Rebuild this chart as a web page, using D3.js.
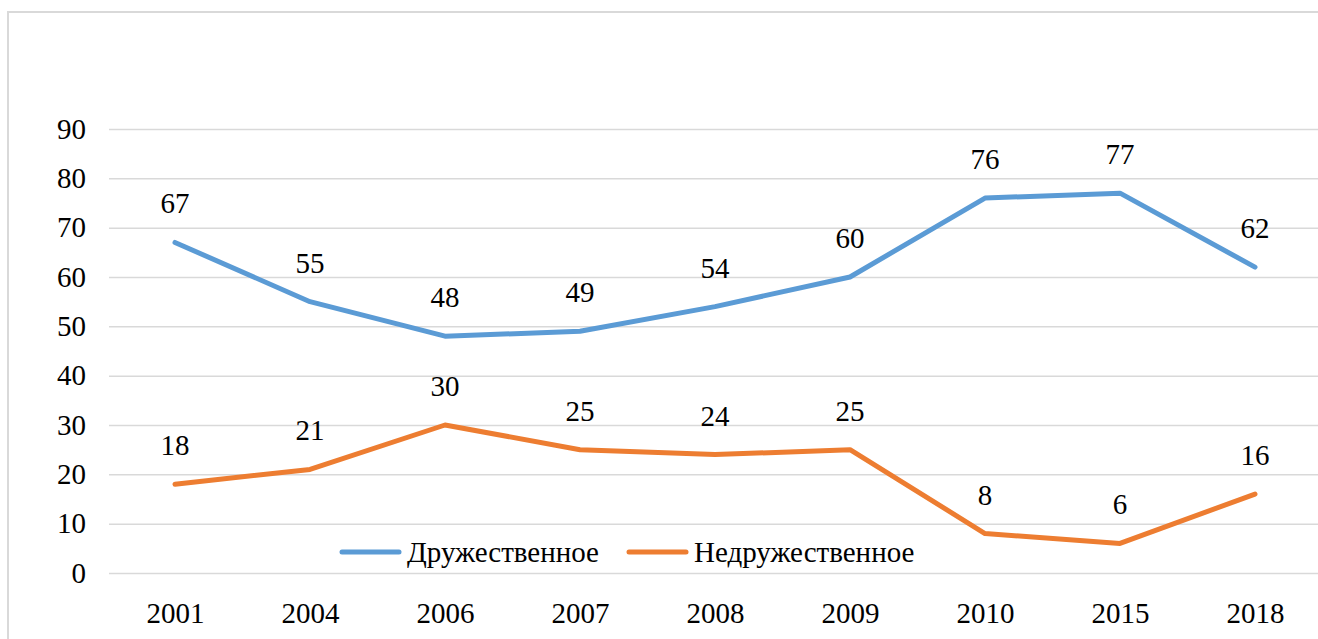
<!DOCTYPE html>
<html>
<head>
<meta charset="utf-8">
<script src="https://cdn.jsdelivr.net/npm/d3@7"></script>
<style>
  body { margin: 0; background: #fff; }
  svg text { font-family: "Liberation Serif", "Times New Roman", serif !important; }
</style>
</head>
<body>
<div id="chart"></div>
<script>
var years = ["2001", "2004", "2006", "2007", "2008", "2009", "2010", "2015", "2018"];
var friendly = [67, 55, 48, 49, 54, 60, 76, 77, 62];
var unfriendly = [18, 21, 30, 25, 24, 25, 8, 6, 16];
var yTicks = [0, 10, 20, 30, 40, 50, 60, 70, 80, 90];
var seriesNames = ["Дружественное", "Недружественное"];
var colors = ["#5b9bd5", "#ed7d31"];

var fam = "Liberation Serif, Times New Roman, serif";

var svg = d3.select("#chart")
    .append("svg")
    .attr("width", 1318)
    .attr("height", 639)
    .attr("font-family", fam)
    .attr("font-size", 29);

// outer frame
svg.append("rect")
    .attr("x", 8)
    .attr("y", 12)
    .attr("width", 1330)
    .attr("height", 700)
    .attr("fill", "none")
    .attr("stroke", "#d9d9d9")
    .attr("stroke-width", 2);

var x = d3.scalePoint()
    .domain(years)
    .range([175, 1255]);

var y = d3.scaleLinear()
    .domain([0, 90])
    .range([573, 129]);

// gridlines + y labels
var yAxis = svg.append("g")
    .attr("transform", "translate(109,0)")
    .call(d3.axisLeft(y).tickValues(yTicks).tickSize(-1220).tickPadding(23))
    .attr("font-family", fam)
    .attr("font-size", 29);

yAxis.select(".domain").remove();
yAxis.selectAll(".tick line")
    .attr("stroke", "#d9d9d9")
    .attr("stroke-width", 1.5);
yAxis.selectAll(".tick text").attr("font-family", fam).attr("fill", "#000");

var xAxis = svg.append("g")
    .attr("transform", "translate(0,573)")
    .call(d3.axisBottom(x).tickSize(0).tickPadding(29))
    .attr("font-family", fam)
    .attr("font-size", 29);

xAxis.select(".domain").remove();
xAxis.selectAll(".tick text").attr("font-family", fam).attr("fill", "#000");

var line = d3.line()
    .x(function(d, i) { return x(years[i]); })
    .y(function(d) { return y(d); });

[friendly, unfriendly].forEach(function(data, s) {
    svg.append("path")
        .datum(data)
        .attr("d", line)
        .attr("fill", "none")
        .attr("stroke", colors[s])
        .attr("stroke-width", 5)
        .attr("stroke-linecap", "round")
        .attr("stroke-linejoin", "round");

    svg.selectAll(".lbl" + s)
        .data(data)
        .enter()
        .append("text")
        .attr("class", "lbl" + s)
        .attr("x", function(d, i) { return x(years[i]); })
        .attr("y", function(d) { return y(d) - 29; })
        .attr("text-anchor", "middle")
        .attr("font-family", fam)
        .attr("fill", "#000")
        .text(function(d) { return d; });
});

// legend
var legendX = [342, 629];
seriesNames.forEach(function(name, s) {
    svg.append("line")
        .attr("x1", legendX[s])
        .attr("x2", legendX[s] + 57)
        .attr("y1", 552)
        .attr("y2", 552)
        .attr("stroke", colors[s])
        .attr("stroke-width", 5)
        .attr("stroke-linecap", "round");
    svg.append("text")
        .attr("x", legendX[s] + 65)
        .attr("y", 562)
        .attr("font-family", fam)
        .attr("fill", "#000")
        .text(name);
});
</script>
</body>
</html>
